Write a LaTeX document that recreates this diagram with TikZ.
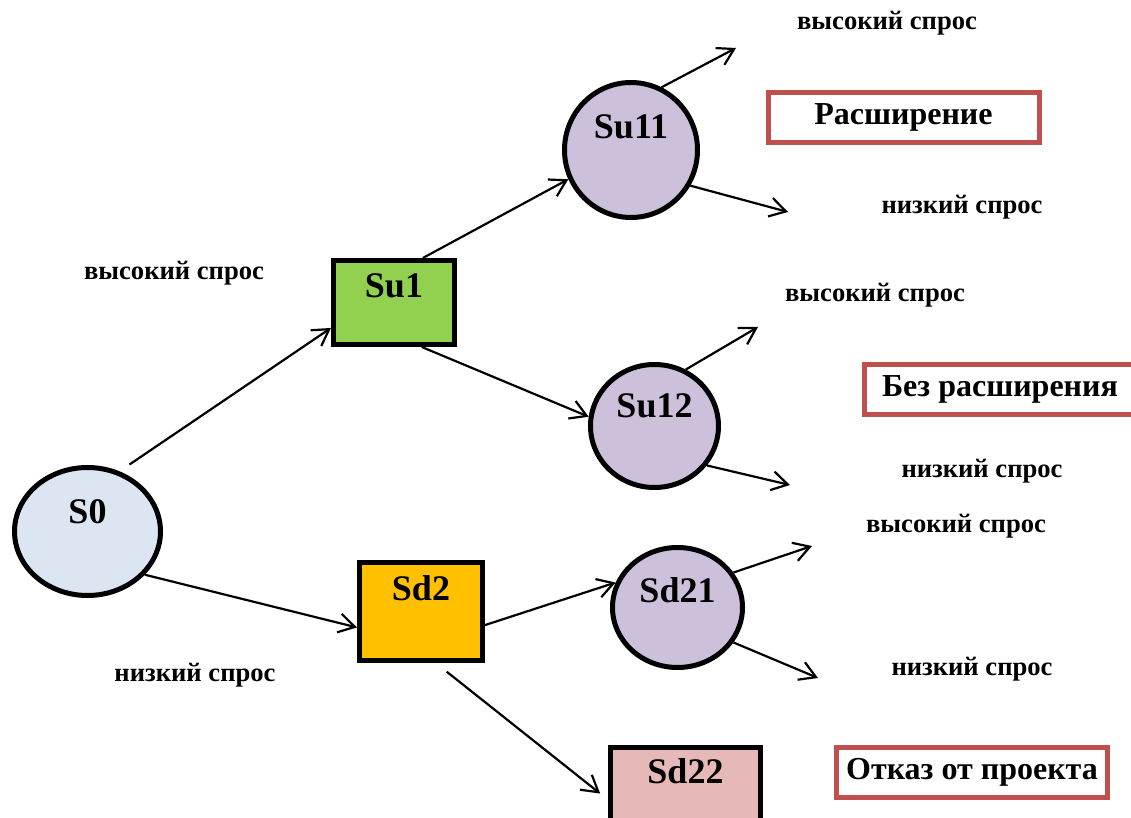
\documentclass[tikz,border=0pt]{standalone}
\usepackage{fontspec}
\setmainfont{Liberation Serif}
\usepackage{tikz}
\usetikzlibrary{shapes.geometric,arrows.meta}

\definecolor{boxred}{HTML}{C0504D}
\definecolor{startblue}{HTML}{DCE6F2}
\definecolor{upgreen}{HTML}{92D050}
\definecolor{downorange}{HTML}{FFC000}
\definecolor{lilac}{HTML}{CCC0DA}
\definecolor{stoppink}{HTML}{E6B9B8}

\begin{document}
\begin{tikzpicture}[x=0.5pt, y=-0.5pt, font=\bfseries,
	chance/.style={draw, line width=2.5pt, ellipse, inner sep=0pt},
	decision/.style={draw, line width=2.5pt, rectangle, inner sep=0pt},
	tag/.style={font=\fontsize{18}{21}\selectfont\bfseries, inner sep=0pt},
	demand/.style={font=\fontsize{13.3}{16}\selectfont\bfseries, inner sep=0pt},
	outcome/.style={draw=boxred, line width=2.5pt, minimum width=135.5pt, minimum height=25pt, inner sep=0pt, font=\fontsize{16}{19}\selectfont\bfseries},
	arr/.style={-{Straight Barb[length=8pt,width=9.5pt]}, line width=1.1pt}]
	\useasboundingbox (0,0) rectangle (1131,818);

	\node[chance, fill=startblue, minimum width=73pt, minimum height=64pt, label={[tag, yshift=9.75pt]center:S0}] (s0) at (87.5,531.5) {};
	\node[decision, fill=upgreen, minimum width=60.5pt, minimum height=42pt, label={[tag, yshift=8.25pt]center:Su1}] (su1) at (394,302.5) {};
	\node[decision, fill=downorange, minimum width=61.5pt, minimum height=49pt, label={[tag, yshift=11.75pt]center:Sd2}] (sd2) at (421,611.5) {};
	\node[chance, fill=lilac, minimum width=66.5pt, minimum height=67.5pt, label={[tag, yshift=11.5pt]center:Su11}] (su11) at (631,150) {};
	\node[chance, fill=lilac, minimum width=64pt, minimum height=61.5pt, label={[tag, yshift=10pt]center:Su12}] (su12) at (654.5,426) {};
	\node[chance, fill=lilac, minimum width=65pt, minimum height=60pt, label={[tag, yshift=8.75pt]center:Sd21}] (sd21) at (677.5,607.5) {};
	\node[decision, fill=stoppink, minimum width=75pt, minimum height=55pt, label={[tag, yshift=15.5pt]center:Sd22}] (sd22) at (685.5,802.5) {};

	\node[outcome] (opt1) at (903.5,117.5) {Расширение};
	\node[outcome] (opt2) at (1000,389.5) {Без расширения};
	\node[outcome] (opt3) at (972,772.5) {Отказ от проекта};

	\node[demand] (hi0) at (174,273) {высокий спрос};
	\node[demand] (lo0) at (195,675) {низкий спрос};
	\node[demand] (hi11) at (887,23) {высокий спрос};
	\node[demand] (lo11) at (962,207) {низкий спрос};
	\node[demand] (hi12) at (875,295) {высокий спрос};
	\node[demand] (lo12) at (982,471) {низкий спрос};
	\node[demand] (hi21) at (956,526) {высокий спрос};
	\node[demand] (lo21) at (972,669) {низкий спрос};

	\coordinate (end11h) at (736,48);
	\coordinate (end11l) at (788,212);
	\coordinate (end12h) at (758,327);
	\coordinate (end12l) at (790,485);
	\coordinate (end21h) at (812,546);
	\coordinate (end21l) at (818,678);

	\draw[arr, shorten <=6pt] (s0.62) -- (su1.202);
	\draw[arr] (s0.-37) -- (sd2.194);
	\draw[arr] (su1.57) -- (su11.205);
	\draw[arr] (su1.-58) -- (su12.172);
	\draw[arr] (sd2.-12) -- (sd21.158);
	\draw[arr, shorten <=7pt, shorten >=5pt] (sd2.-74) -- (sd22.178);
	\draw[arr] (su11.64) -- (end11h);
	\draw[arr] (su11.-31) -- (end11l);
	\draw[arr] (su12.61) -- (end12h);
	\draw[arr] (su12.-37) -- (end12l);
	\draw[arr] (sd21.32) -- (end21h);
	\draw[arr] (sd21.-32) -- (end21l);
\end{tikzpicture}
\end{document}
